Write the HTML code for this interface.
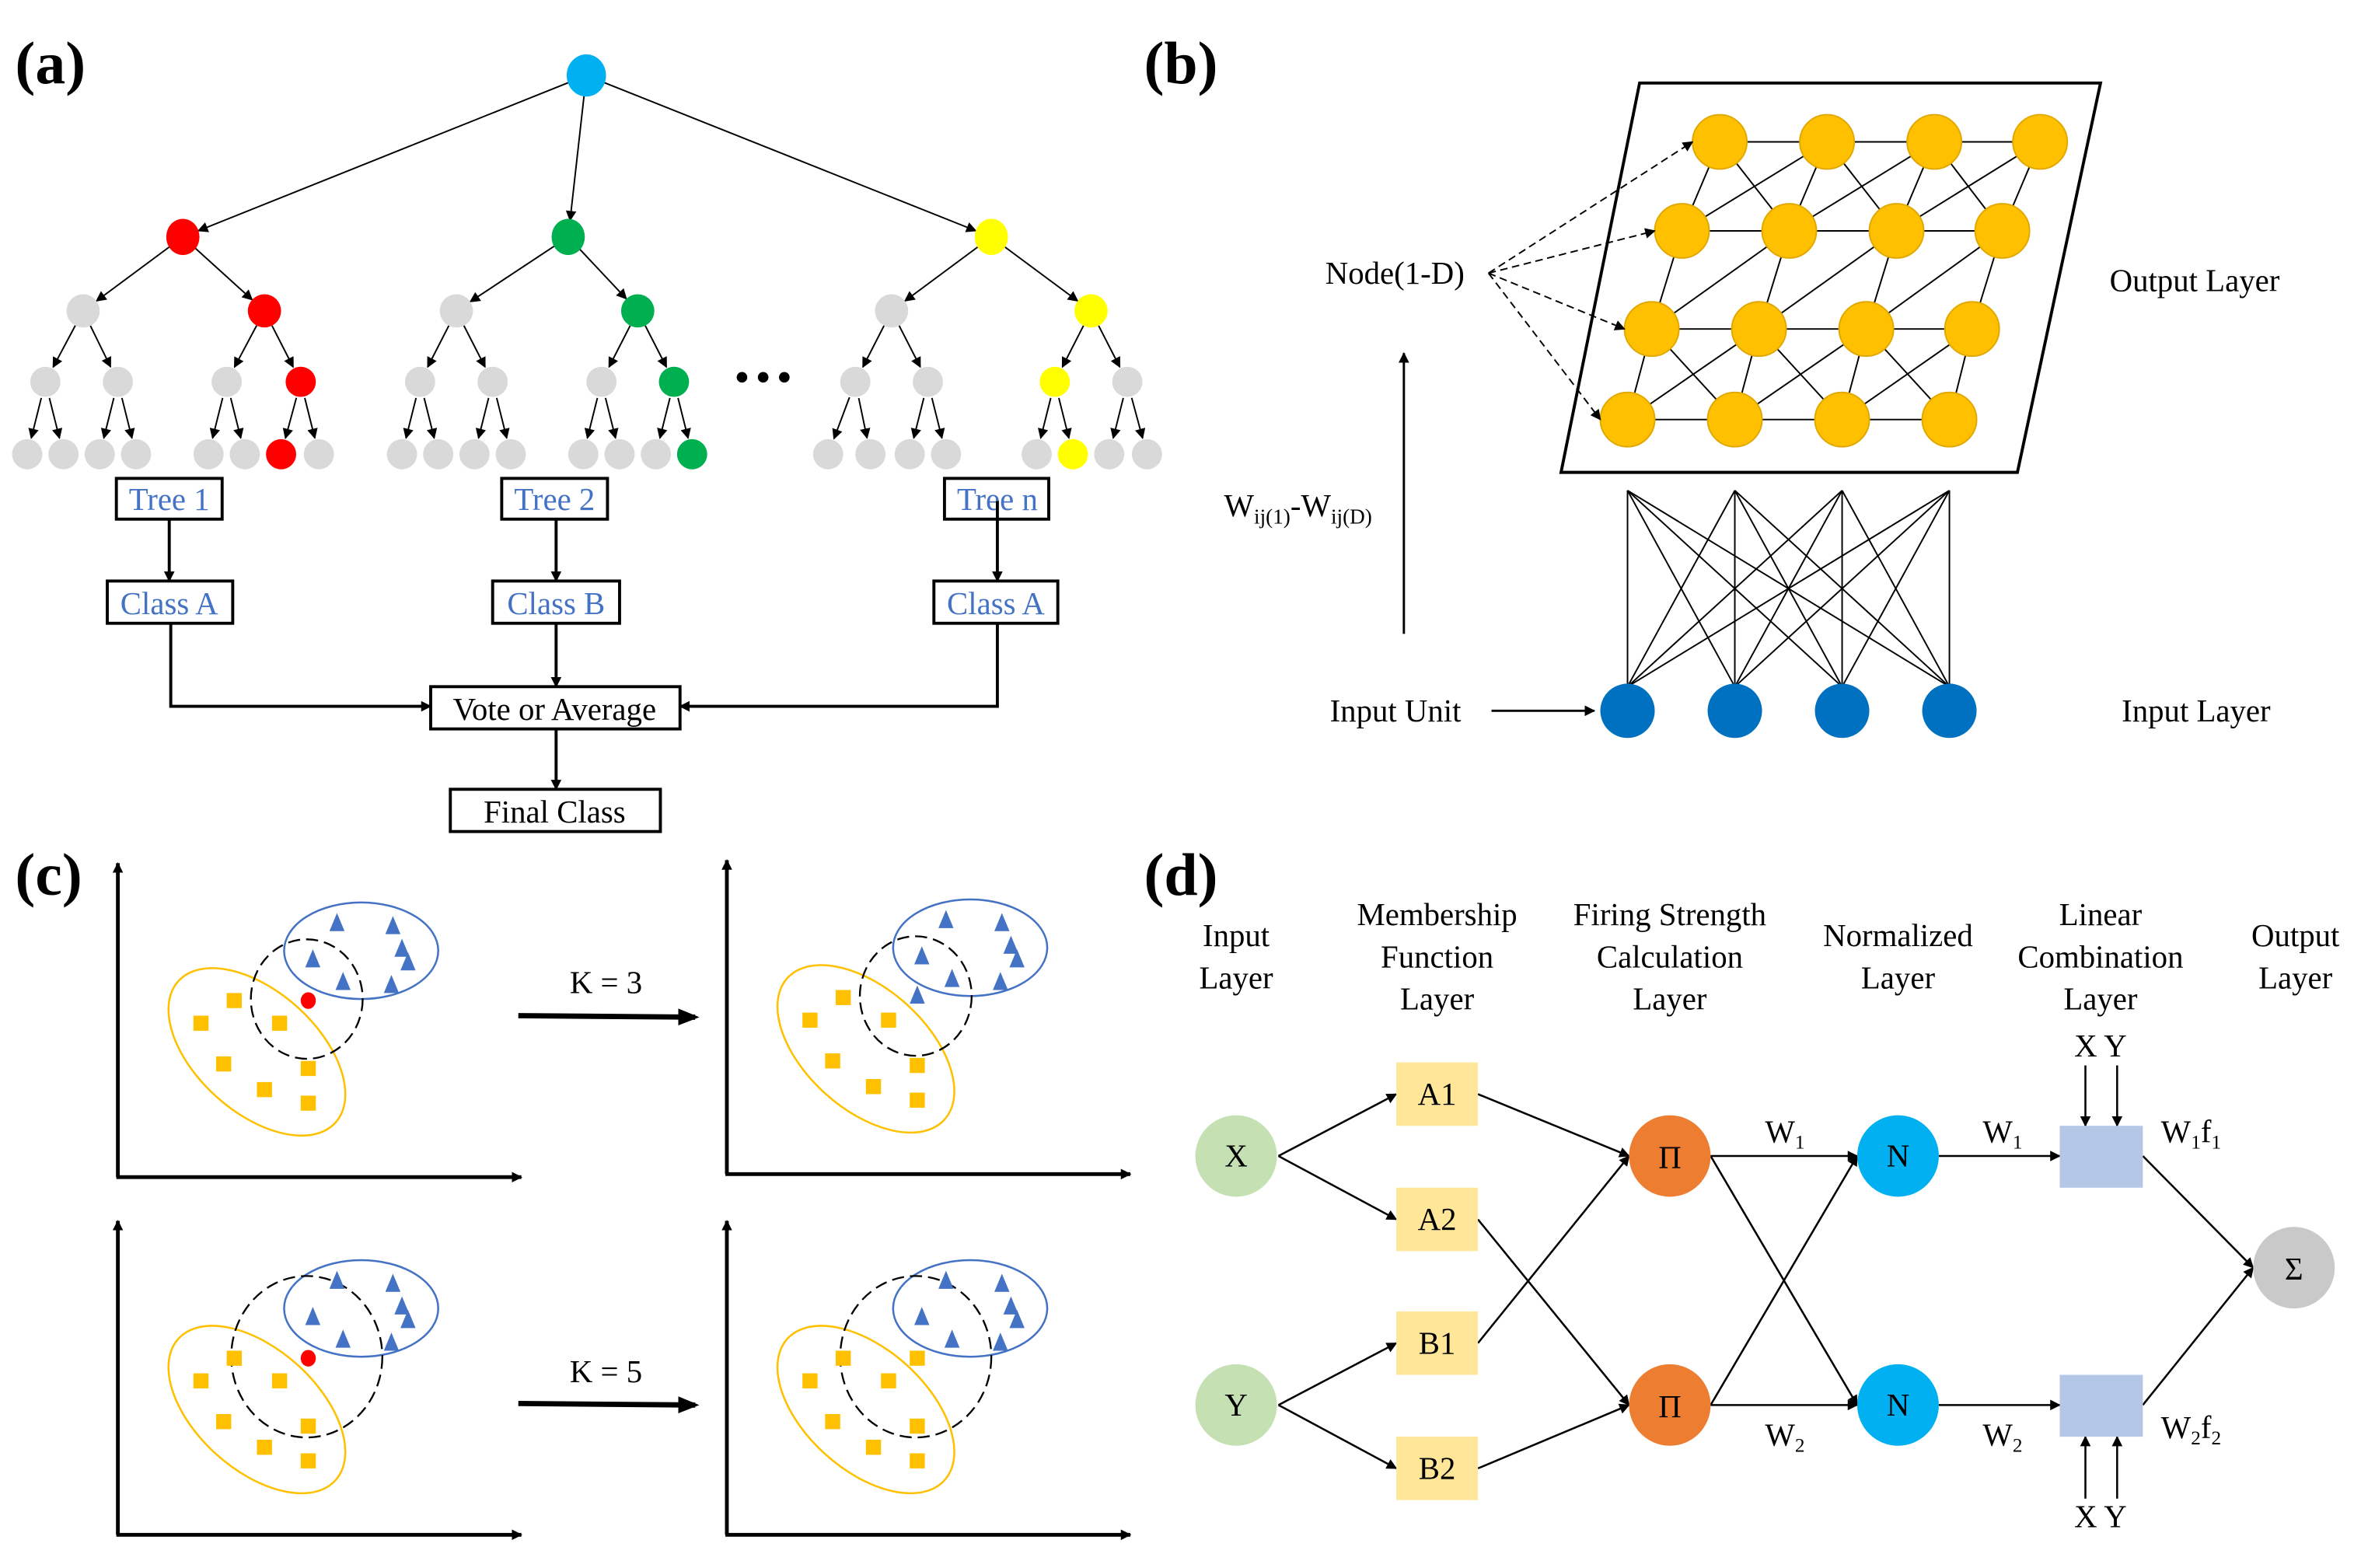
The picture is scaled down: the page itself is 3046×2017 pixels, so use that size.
<!DOCTYPE html>
<html><head><meta charset="utf-8"><style>
html,body{margin:0;padding:0;background:#fff;}
svg{display:block;}
svg, text, tspan{font-family:"Liberation Serif","Times New Roman","DejaVu Serif",serif;}
</style></head><body>
<svg id="s" width="3046" height="2017" viewBox="0 0 1567 1039" preserveAspectRatio="none" xmlns="http://www.w3.org/2000/svg" font-family="Liberation Serif, Times New Roman, DejaVu Serif, serif">
<defs>
<marker id="ar" viewBox="0 0 10 10" refX="9" refY="5" markerWidth="7" markerHeight="7" orient="auto-start-reverse" markerUnits="userSpaceOnUse"><path d="M0,0 L10,5 L0,10 z" fill="#000"/></marker>
<marker id="ar3" viewBox="0 0 10 10" refX="8" refY="5" markerWidth="14" markerHeight="14" orient="auto" markerUnits="userSpaceOnUse"><path d="M0,1 L10,5 L0,9 z" fill="#000"/></marker>
</defs>
<g id="g"></g>
<text x="10" y="55" font-size="40" font-weight="bold">(a)</text>
<text x="757" y="55" font-size="40" font-weight="bold">(b)</text>
<text x="10" y="593" font-size="40" font-weight="bold">(c)</text>
<text x="757" y="593" font-size="40" font-weight="bold">(d)</text>
<g fill="#fff" stroke="#000" stroke-width="2">
<rect x="77" y="317" width="70" height="27"/><rect x="332" y="317" width="70" height="27"/><rect x="625" y="317" width="69" height="27"/>
<rect x="71" y="385" width="83" height="28"/><rect x="326" y="385" width="84" height="28"/><rect x="618" y="385" width="82" height="28"/>
<rect x="285" y="455" width="165" height="28"/><rect x="298" y="523" width="139" height="28"/>
</g>
<g font-size="21" fill="#4472C4" text-anchor="middle">
<text x="112" y="338">Tree 1</text><text x="367" y="338">Tree 2</text><text x="660" y="338">Tree n</text>
<text x="112" y="407">Class A</text><text x="368" y="407">Class B</text><text x="659" y="407">Class A</text>
</g>
<g font-size="21" text-anchor="middle">
<text x="367" y="477">Vote or Average</text><text x="367" y="545">Final Class</text>
</g>
<g stroke="#000" stroke-width="2" fill="none">
<line x1="112" y1="344" x2="112" y2="385" marker-end="url(#ar)"/>
<line x1="368" y1="344" x2="368" y2="385" marker-end="url(#ar)"/>
<line x1="660" y1="332" x2="660" y2="385" marker-end="url(#ar)"/>
<polyline points="113,413 113,468 285,468" marker-end="url(#ar)"/>
<line x1="368" y1="413" x2="368" y2="455" marker-end="url(#ar)"/>
<polyline points="660,413 660,468 450,468" marker-end="url(#ar)"/>
<line x1="368" y1="483" x2="368" y2="523" marker-end="url(#ar)"/>
</g>
<g fill="#000"><circle cx="491" cy="250" r="3.5"/><circle cx="505" cy="250" r="3.5"/><circle cx="519" cy="250" r="3.5"/></g>
<polygon points="1085,55 1390,55 1335,313 1033,313" fill="none" stroke="#000" stroke-width="2"/>
<g font-size="21">
<text x="877" y="188">Node(1-D)</text>
<text x="1396" y="193">Output Layer</text>
<text x="810" y="342">W<tspan font-size="14" dy="5">ij(1)</tspan><tspan dy="-5">-W</tspan><tspan font-size="14" dy="5">ij(D)</tspan></text>
<text x="880" y="478">Input Unit</text>
<text x="1404" y="478">Input Layer</text>
</g>
<line x1="929" y1="420" x2="929" y2="234" stroke="#000" stroke-width="1.5" marker-end="url(#ar)"/>
<line x1="987" y1="471" x2="1055" y2="471" stroke="#000" stroke-width="1.5" marker-end="url(#ar)"/>
<g font-size="21" text-anchor="middle"><text x="401" y="658">K = 3</text><text x="401" y="916">K = 5</text></g>
<line x1="343" y1="673" x2="460" y2="674" stroke="#000" stroke-width="3.5" marker-end="url(#ar3)"/>
<line x1="343" y1="930" x2="460" y2="931" stroke="#000" stroke-width="3.5" marker-end="url(#ar3)"/>
<g font-size="21" text-anchor="middle">
<text x="818" y="627">Input</text><text x="818" y="655">Layer</text>
<text x="951" y="613">Membership</text><text x="951" y="641">Function</text><text x="951" y="669">Layer</text>
<text x="1105" y="613">Firing Strength</text><text x="1105" y="641">Calculation</text><text x="1105" y="669">Layer</text>
<text x="1256" y="627">Normalized</text><text x="1256" y="655">Layer</text>
<text x="1390" y="613">Linear</text><text x="1390" y="641">Combination</text><text x="1390" y="669">Layer</text>
<text x="1519" y="627">Output</text><text x="1519" y="655">Layer</text>
</g>
<g stroke="#000" stroke-width="1.3" fill="none">
<line x1="846" y1="766" x2="924" y2="725" marker-end="url(#ar)"/>
<line x1="846" y1="766" x2="924" y2="808" marker-end="url(#ar)"/>
<line x1="846" y1="931" x2="924" y2="890" marker-end="url(#ar)"/>
<line x1="846" y1="931" x2="924" y2="973" marker-end="url(#ar)"/>
<line x1="978" y1="725" x2="1078" y2="766" marker-end="url(#ar)"/>
<line x1="978" y1="808" x2="1078" y2="931" marker-end="url(#ar)"/>
<line x1="978" y1="890" x2="1078" y2="766" marker-end="url(#ar)"/>
<line x1="978" y1="973" x2="1078" y2="931" marker-end="url(#ar)"/>
<line x1="1132" y1="766" x2="1229" y2="766" marker-end="url(#ar)"/>
<line x1="1132" y1="766" x2="1229" y2="931" marker-end="url(#ar)"/>
<line x1="1132" y1="931" x2="1229" y2="766" marker-end="url(#ar)"/>
<line x1="1132" y1="931" x2="1229" y2="931" marker-end="url(#ar)"/>
<line x1="1283" y1="766" x2="1363" y2="766" marker-end="url(#ar)"/>
<line x1="1283" y1="931" x2="1363" y2="931" marker-end="url(#ar)"/>
<line x1="1418" y1="766" x2="1491" y2="840" marker-end="url(#ar)"/>
<line x1="1418" y1="931" x2="1491" y2="840" marker-end="url(#ar)"/>
<line x1="1380" y1="706" x2="1380" y2="746" marker-end="url(#ar)"/>
<line x1="1401" y1="706" x2="1401" y2="746" marker-end="url(#ar)"/>
<line x1="1380" y1="993" x2="1380" y2="952" marker-end="url(#ar)"/>
<line x1="1401" y1="993" x2="1401" y2="952" marker-end="url(#ar)"/>
</g>
<g fill="#FFE699"><rect x="924" y="704" width="54" height="42"/><rect x="924" y="787" width="54" height="42"/><rect x="924" y="869" width="54" height="42"/><rect x="924" y="952" width="54" height="42"/></g>
<g fill="#B4C7E7"><rect x="1363" y="746" width="55" height="41"/><rect x="1363" y="911" width="55" height="41"/></g>
<ellipse cx="818" cy="766" rx="27" ry="27" fill="#C5E0B3"/><ellipse cx="818" cy="931" rx="27" ry="27" fill="#C5E0B3"/>
<circle cx="1105" cy="766" r="27" fill="#ED7D31"/><circle cx="1105" cy="931" r="27" fill="#ED7D31"/>
<circle cx="1256" cy="766" r="27" fill="#00B0F0"/><circle cx="1256" cy="931" r="27" fill="#00B0F0"/>
<circle cx="1518" cy="840" r="27" fill="#C9C9C9"/>
<g font-size="21" text-anchor="middle">
<text x="818" y="773">X</text><text x="818" y="938">Y</text>
<text x="951" y="732">A1</text><text x="951" y="815">A2</text><text x="951" y="897">B1</text><text x="951" y="980">B2</text>
<text x="1105" y="774">Π</text><text x="1105" y="939">Π</text>
<text x="1256" y="773">N</text><text x="1256" y="938">N</text>
<text x="1518" y="848">Σ</text>
<text x="1390" y="700">X Y</text><text x="1390" y="1012">X Y</text>
</g>
<g font-size="21">
<text x="1168" y="757">W<tspan font-size="13" dy="4">1</tspan></text>
<text x="1312" y="757">W<tspan font-size="13" dy="4">1</tspan></text>
<text x="1168" y="958">W<tspan font-size="13" dy="4">2</tspan></text>
<text x="1312" y="958">W<tspan font-size="13" dy="4">2</tspan></text>
<text x="1430" y="757">W<tspan font-size="13" dy="4">1</tspan><tspan dy="-4">f</tspan><tspan font-size="13" dy="4">1</tspan></text>
<text x="1430" y="953">W<tspan font-size="13" dy="4">2</tspan><tspan dy="-4">f</tspan><tspan font-size="13" dy="4">2</tspan></text>
</g>
</svg>
<script>
var NS="http://www.w3.org/2000/svg",g=document.getElementById("g");
function el(t,a){var e=document.createElementNS(NS,t);for(var k in a)e.setAttribute(k,a[k]);g.appendChild(e);return e;}
function arrow(x1,y1,x2,y2,r,w){var dx=x2-x1,dy=y2-y1,L=Math.hypot(dx,dy);el("line",{x1:x1+dx/L*(r[0]||0),y1:y1+dy/L*(r[0]||0),x2:x2-dx/L*r[1],y2:y2-dy/L*r[1],stroke:"#000","stroke-width":w||1,"marker-end":"url(#ar)"});}
var G="#D9D9D9",R="#FF0000",GR="#00B050",Y="#FFFF00";
var root=[388,50];
var L1=[[121,157,R],[376,157,GR],[656,157,Y]];
var L2=[[[55,206,G],[175,206,R]],[[302,206,G],[422,206,GR]],[[590,206,G],[722,206,Y]]];
var L3=[[[30,253,G],[78,253,G],[150,253,G],[199,253,R]],[[278,253,G],[326,253,G],[398,253,G],[446,253,GR]],[[566,253,G],[614,253,G],[698,253,Y],[746,253,G]]];
var L4=[[18,42,66,90,138,162,186,211],[266,290,314,338,386,410,434,458],[548,576,602,626,686,710,734,759]];
var C4=[[6,R],[7,GR],[5,Y]];
for(var t=0;t<3;t++){
 arrow(root[0],root[1],L1[t][0],L1[t][1],[13,11]);
 for(var i=0;i<2;i++){arrow(L1[t][0],L1[t][1],L2[t][i][0],L2[t][i][1],[11,11]);
  for(var j=0;j<2;j++){var n3=L3[t][i*2+j];arrow(L2[t][i][0],L2[t][i][1],n3[0],n3[1],[11,11]);
   for(var k=0;k<2;k++){arrow(n3[0],n3[1],L4[t][(i*2+j)*2+k],301,[11,11]);}}}
}
function node(x,y,rx,ry,f){el("ellipse",{cx:x,cy:y,rx:rx,ry:ry,fill:f});}
node(388,50,13,14,"#00B0F0");
for(t=0;t<3;t++){node(L1[t][0],L1[t][1],11,12,L1[t][2]);
 for(i=0;i<2;i++)node(L2[t][i][0],L2[t][i][1],11,11,L2[t][i][2]);
 for(i=0;i<4;i++)node(L3[t][i][0],L3[t][i][1],10,10,L3[t][i][2]);
 for(i=0;i<8;i++)node(L4[t][i],301,10,10,C4[t][0]==i?C4[t][1]:G);}
var rows=[[94,[1138,1209,1280,1350]],[153,[1113,1184,1255,1325]],[218,[1093,1164,1235,1305]],[278,[1077,1148,1219,1290]]];
for(var r=0;r<4;r++){var y=rows[r][0],xs=rows[r][1];
 el("line",{x1:xs[0],y1:y,x2:xs[3],y2:y,stroke:"#000","stroke-width":1});
 if(r<3){var y2=rows[r+1][0],x2s=rows[r+1][1];
  for(i=0;i<4;i++){el("line",{x1:xs[i],y1:y,x2:x2s[i],y2:y2,stroke:"#000","stroke-width":1});
   if(r%2==0&&i<3)el("line",{x1:xs[i],y1:y,x2:x2s[i+1],y2:y2,stroke:"#000","stroke-width":1});
   if(i>0)el("line",{x1:xs[i],y1:y,x2:x2s[i-1],y2:y2,stroke:"#000","stroke-width":1});}}}
var inx=[1077,1148,1219,1290];
for(i=0;i<4;i++)for(j=0;j<4;j++)el("line",{x1:inx[i],y1:455,x2:inx[j],y2:325,stroke:"#000","stroke-width":1});
for(r=0;r<4;r++){var xs=rows[r][1];for(i=0;i<4;i++)el("circle",{cx:xs[i],cy:rows[r][0],r:18,fill:"#FFC000",stroke:"#E0A800","stroke-width":1});}
for(i=0;i<4;i++)el("circle",{cx:inx[i],cy:471,r:18,fill:"#0070C0"});
var tg=[[1120,94],[1095,153],[1075,218],[1059,278]];
for(i=0;i<4;i++)el("line",{x1:985,y1:181,x2:tg[i][0],y2:tg[i][1],stroke:"#000","stroke-width":1,"stroke-dasharray":"5,3","marker-end":"url(#ar)"});
function plot(ox,oy,rad,mode){
 el("line",{x1:ox+78,y1:oy+780,x2:ox+78,y2:oy+572,stroke:"#000","stroke-width":2.5,"marker-end":"url(#ar)"});
 el("line",{x1:ox+77,y1:oy+780,x2:ox+345,y2:oy+780,stroke:"#000","stroke-width":2.5,"marker-end":"url(#ar)"});
 el("ellipse",{cx:ox+170,cy:oy+697,rx:70,ry:40,transform:"rotate(42 "+(ox+170)+" "+(oy+697)+")",fill:"none",stroke:"#FFC000","stroke-width":1.3});
 el("ellipse",{cx:ox+239,cy:oy+630,rx:51,ry:32,fill:"none",stroke:"#4472C4","stroke-width":1.3});
 el("ellipse",{cx:ox+203,cy:oy+662,rx:rad,ry:rad*1.07,fill:"none",stroke:"#000","stroke-width":1.2,"stroke-dasharray":"8,4"});
 var sq=[[155,663],[133,678],[185,678],[148,705],[204,708],[175,722],[204,731]];
 sq.forEach(function(p){el("rect",{x:ox+p[0]-5,y:oy+p[1]-5,width:10,height:10,fill:"#FFC000"});});
 var tr=[[223,611],[260,613],[207,635],[266,628],[270,637],[227,650],[259,652]];
 tr.forEach(function(p){var x=ox+p[0],y=oy+p[1];el("polygon",{points:(x-5)+","+(y+6)+" "+(x+5)+","+(y+6)+" "+x+","+(y-6),fill:"#4472C4"});});
 if(mode==0)el("ellipse",{cx:ox+204,cy:oy+663,rx:5,ry:5.5,fill:"#FF0000"});
 if(mode==1){var x=ox+204,y=oy+661;el("polygon",{points:(x-5)+","+(y+6)+" "+(x+5)+","+(y+6)+" "+x+","+(y-6),fill:"#4472C4"});}
 if(mode==2)el("rect",{x:ox+199,y:oy+658,width:10,height:10,fill:"#FFC000"});
}
plot(0,0,37,0);plot(403,-2,37,1);plot(0,237,50,0);plot(403,237,50,2);
</script>
</body></html>
